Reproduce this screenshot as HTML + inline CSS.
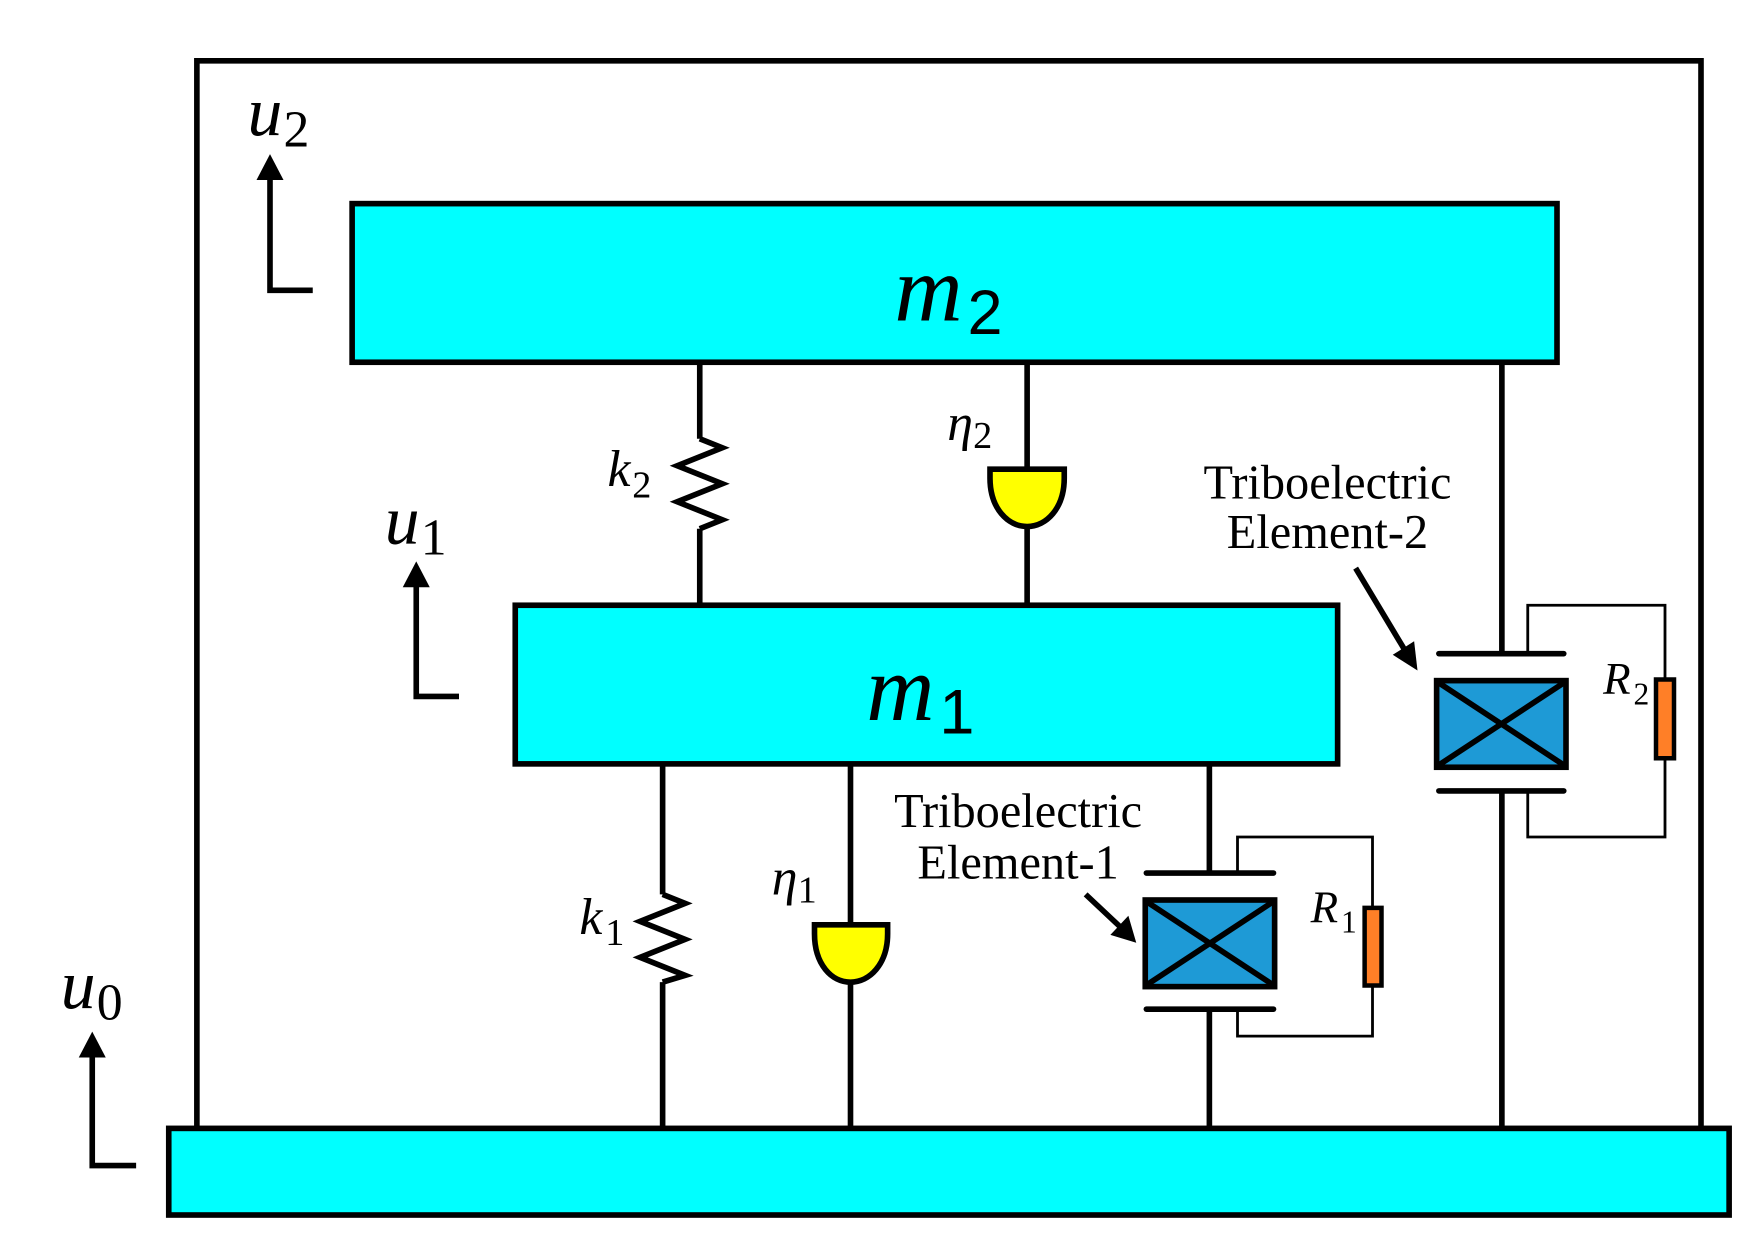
<!DOCTYPE html>
<html><head><style>html,body{margin:0;padding:0;background:#fff}svg{display:block}</style></head>
<body>
<svg width="1764" height="1259" viewBox="0 0 1568 1119.1" xmlns="http://www.w3.org/2000/svg" font-family="Liberation Serif, serif">
<g stroke="#000" stroke-width="5" fill="none">
<polyline points="175,1003 175,54 1512,54 1512,1003"/>
<line x1="622" y1="322" x2="622" y2="390"/>
<polyline points="622,390 642,398 602,414 642,430 602,446 642,462 622,470" stroke-linejoin="miter"/>
<line x1="622" y1="470" x2="622" y2="538"/>
<line x1="913" y1="322" x2="913" y2="538"/>
<line x1="589" y1="679" x2="589" y2="795"/>
<polyline points="589,795 609,803 569,819 609,835 569,851 609,867 589,873"/>
<line x1="589" y1="873" x2="589" y2="1003"/>
<line x1="756" y1="679" x2="756" y2="1003"/>
<line x1="1075" y1="679" x2="1075" y2="776"/>
<line x1="1075" y1="897" x2="1075" y2="1003"/>
<line x1="1335" y1="322" x2="1335" y2="581"/>
<line x1="1335" y1="703" x2="1335" y2="1003"/>
<polyline points="240,154 240,258 278,258"/>
<polyline points="370,516 370,619 408,619"/>
<polyline points="82,934 82,1036 121,1036"/>
</g>
<g fill="#000">
<polygon points="240,137 228,160 252,160"/>
<polygon points="370,499 358,522 382,522"/>
<polygon points="82,917 70,940 94,940"/>
</g>
<rect x="313" y="181" width="1071" height="141" fill="#00ffff" stroke="#000" stroke-width="5"/>
<rect x="458" y="538" width="731" height="141" fill="#00ffff" stroke="#000" stroke-width="5"/>
<rect x="150" y="1003" width="1387" height="77" fill="#00ffff" stroke="#000" stroke-width="5"/>
<path d="M880,417 L946,417 L946,425 C946,452 930,468 913,468 C896,468 880,452 880,425 Z" fill="#ffff00" stroke="#000" stroke-width="5"/>
<path d="M724,822 L789,822 L789,830 C789,857 773,873 756,873 C739,873 724,857 724,830 Z" fill="#ffff00" stroke="#000" stroke-width="5"/>
<g stroke="#000" stroke-width="2.5" fill="none">
<polyline points="1100,776 1100,744 1220,744 1220,921 1100,921 1100,897"/>
<polyline points="1358,581 1358,538 1480,538 1480,744 1358,744 1358,703"/>
</g>
<rect x="1213" y="807" width="15" height="69" fill="#ff7f27" stroke="#000" stroke-width="4"/>
<rect x="1472" y="604" width="16" height="70" fill="#ff7f27" stroke="#000" stroke-width="4"/>
<g stroke="#000" stroke-width="5" stroke-linecap="round">
<line x1="1019" y1="776" x2="1132" y2="776"/>
<line x1="1019" y1="897" x2="1132" y2="897"/>
<line x1="1279" y1="581" x2="1390" y2="581"/>
<line x1="1279" y1="703" x2="1390" y2="703"/>
</g>
<g stroke="#000" stroke-width="5">
<rect x="1018" y="800" width="115" height="77" fill="#1e9ad6"/>
<line x1="1020" y1="802" x2="1131" y2="875"/>
<line x1="1131" y1="802" x2="1020" y2="875"/>
<rect x="1277" y="605" width="115" height="77" fill="#1e9ad6"/>
<line x1="1279" y1="607" x2="1390" y2="680"/>
<line x1="1390" y1="607" x2="1279" y2="680"/>
<line x1="1205" y1="505" x2="1250" y2="580"/>
<line x1="965" y1="795" x2="998" y2="826"/>
</g>
<polygon points="1260,596 1238,582 1257,570" fill="#000"/>
<polygon points="1010,838 987,831 1003,814" fill="#000"/>
<g fill="#000">
<text x="795" y="285" font-size="84" font-style="italic">m</text><text x="860" y="297" font-size="56" font-family="Liberation Sans, sans-serif">2</text>
<text x="770" y="640" font-size="84" font-style="italic">m</text><text x="835" y="652" font-size="56" font-family="Liberation Sans, sans-serif">1</text>
<text x="220" y="120" font-size="62" font-style="italic">u</text><text x="252" y="130" font-size="46">2</text>
<text x="342" y="483" font-size="62" font-style="italic">u</text><text x="374" y="493" font-size="46">1</text>
<text x="54" y="896" font-size="62" font-style="italic">u</text><text x="86" y="906" font-size="46">0</text>
<text x="540" y="432" font-size="46" font-style="italic">k</text><text x="562" y="442" font-size="34">2</text>
<text x="515" y="830" font-size="46" font-style="italic">k</text><text x="538" y="840" font-size="34">1</text>
<text x="842" y="391" font-size="46" font-style="italic">η</text><text x="865" y="398" font-size="34">2</text>
<text x="686" y="795" font-size="46" font-style="italic">η</text><text x="709" y="802" font-size="34">1</text>
<text x="1425" y="617" font-size="40" font-style="italic">R</text><text x="1452" y="626" font-size="28">2</text>
<text x="1165" y="820" font-size="40" font-style="italic">R</text><text x="1192" y="829" font-size="28">1</text>
<text x="1180" y="443" font-size="43" text-anchor="middle">Triboelectric</text>
<text x="1180" y="487" font-size="43" text-anchor="middle">Element-2</text>
<text x="905" y="735" font-size="43" text-anchor="middle">Triboelectric</text>
<text x="905" y="781" font-size="43" text-anchor="middle">Element-1</text>
</g>
</svg>
</body></html>
